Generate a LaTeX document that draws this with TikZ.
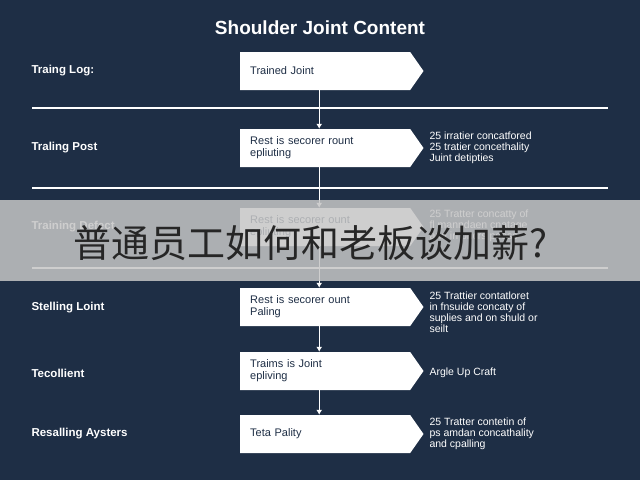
\documentclass[tikz,border=0pt]{standalone}
\usepackage{fontspec}
\setmainfont{Liberation Sans}
\newfontfamily\cjk{Noto Sans CJK SC}
\usetikzlibrary{shapes.symbols, arrows.meta}

\definecolor{navy}{HTML}{1E2E45}

\begin{document}
\begin{tikzpicture}[x=1pt, y=-1pt,
        box/.style={signal, signal to=east, signal pointer angle=110, fill=white, draw=none,
            minimum width=176, minimum height=38, anchor=west, align=left, text width=150,
            font=\fontsize{11}{12}\selectfont, text=navy, inner xsep=10},
        lbl/.style={anchor=west, text=white, font=\bfseries\fontsize{11.5}{13}\selectfont},
        note/.style={anchor=west, text=white, align=left, font=\fontsize{10.5}{11}\selectfont},
        sep/.style={white, line width=1.2pt},
        flow/.style={white, line width=1pt, -{Latex[length=5pt,width=6pt]}}]
    \fill[navy] (0,0) rectangle (640,480);
    \useasboundingbox (0,0) rectangle (640,480);
    \node[text=white, font=\bfseries\fontsize{19}{22}\selectfont] (title) at (320,28) {Shoulder Joint Content};
    % rows
    \node[box] (b1) at (240,71) {Trained Joint};
    \node[box] (b2) at (240,148) {Rest is secorer rount\\ epliuting};
    \node[box] (b3) at (240,227) {Rest is secorer ount\\ epliuting};
    \node[box] (b4) at (240,307) {Rest is secorer ount\\ Paling};
    \node[box] (b5) at (240,371) {Traims is Joint\\ epliving};
    \node[box] (b6) at (240,434) {Teta Pality};
    \node[lbl] (l1) at (28,71) {Traing Log:};
    \node[lbl] (l2) at (28,148) {Traling Post};
    \node[lbl] (l3) at (28,227) {Training Defect};
    \node[lbl] (l4) at (28,308) {Stelling Loint};
    \node[lbl] (l5) at (28,373) {Tecollient};
    \node[lbl] (l6) at (28,434) {Resalling Aysters};
    \node[note] (n2) at (426,148) {25 irratier concatfored\\ 25 tratier concethality\\ Juint detipties};
    \node[note] (n3) at (426,226) {25 Tratter concatty of\\ fl manndaen cnatage\\ and in pncrs peess};
    \node[note] (n4) at (426,312) {25 Trattier contatloret\\ in fnsuide concaty of\\ suplies and on shuld or\\ seilt};
    \node[note] (n5) at (426,373) {Argle Up Craft};
    \node[note] (n6) at (426,434) {25 Tratter contetin of\\ ps amdan concathality\\ and cpalling};
    % separators
    \draw[sep] (32,108) -- (608,108);
    \draw[sep] (32,188) -- (608,188);
    \draw[sep] (32,268) -- (608,268);
    % flow
    \foreach \a/\b in {b1/b2, b2/b3, b3/b4, b4/b5, b5/b6}
        \draw[flow] ([xshift=-6]\a.south) -- ([xshift=-6]\b.north);
    % banner
    \fill[gray!45, opacity=0.85] (0,200) rectangle (640,281);
    \node[font=\cjk\fontsize{38}{40}\selectfont, text=black!85] (banner) at (311,243) {普通员工如何和老板谈加薪?};
\end{tikzpicture}
\end{document}
